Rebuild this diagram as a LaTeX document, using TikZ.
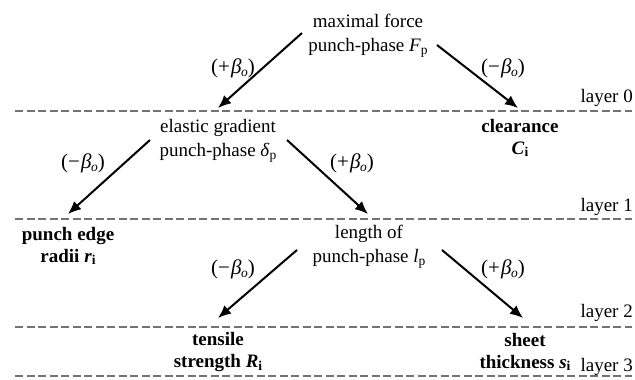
\documentclass[tikz,border=0pt]{standalone}
\usepackage{fontspec}
\setmainfont{Liberation Serif}
\usetikzlibrary{arrows.meta}
\newcommand{\subsc}[1]{\raisebox{-0.3ex}{\fontsize{13.5}{13.5}\selectfont #1}}
\newcommand{\betao}[1]{(#1\kern1pt\textit{β}\kern-0.5pt\subsc{\textit{o}})}
\tikzset{
  txt/.style={align=center, inner sep=1pt, font=\fontsize{19}{24}\selectfont},
  btxt/.style={txt, font=\fontsize{19}{22}\selectfont\bfseries},
  lbl/.style={inner sep=1pt, font=\fontsize{21}{24}\selectfont},
  layerlbl/.style={anchor=east, inner sep=1pt, font=\fontsize{19}{24}\selectfont},
  arr/.style={line width=2pt, -{Latex[length=13pt,width=11pt]}},
  layerline/.style={line width=1.4pt, draw=black!55, dash pattern=on 8pt off 3.5pt}
}
\begin{document}
\begin{tikzpicture}[x=1pt,y=-1pt]
\useasboundingbox (0,0) rectangle (635,380);
% layer lines
\coordinate (L0a) at (15,111); \coordinate (L0b) at (632,111);
\coordinate (L1a) at (15,219); \coordinate (L1b) at (632,219);
\coordinate (L2a) at (15,327); \coordinate (L2b) at (632,327);
\coordinate (L3a) at (15,376); \coordinate (L3b) at (632,376);
\draw[layerline] (L0a) -- (L0b);
\draw[layerline] (L1a) -- (L1b);
\draw[layerline] (L2a) -- (L2b);
\draw[layerline] (L3a) -- (L3b);
\node[layerlbl] (lay0) at (634,98) {layer 0};
\node[layerlbl] (lay1) at (634,207) {layer 1};
\node[layerlbl] (lay2) at (634,313) {layer 2};
\node[layerlbl] (lay3) at (634,367) {layer 3};
% nodes
\node[txt] (F) at (368,36) {maximal force\\punch-phase \textit{F}\subsc{p}};
\node[txt] (D) at (218,141) {elastic gradient\\punch-phase \textit{δ}\subsc{p}};
\node[btxt] (C) at (520,138) {clearance\\\textit{C}\subsc{\bfseries i}};
\node[btxt] (r) at (68,246) {punch edge\\radii \textit{r}\subsc{\bfseries i}};
\node[txt] (l) at (369,247) {length of\\punch-phase \textit{l}\subsc{p}};
\node[btxt] (R) at (218,352) {tensile\\strength \textit{R}\subsc{\bfseries i}};
\node[btxt] (s) at (525,352) {sheet\\thickness \textit{s}\subsc{\bfseries i}};
% arrow ends
\coordinate (a1s) at (302,33);  \coordinate (a1e) at (218,108);
\coordinate (a2s) at (437,45);  \coordinate (a2e) at (518,108);
\coordinate (a3s) at (150,140); \coordinate (a3e) at (68,214);
\coordinate (a4s) at (287,140); \coordinate (a4e) at (368,214);
\coordinate (a5s) at (297,250); \coordinate (a5e) at (218,318);
\coordinate (a6s) at (442,250); \coordinate (a6e) at (523,318);
\draw[arr] (a1s) -- (a1e);
\draw[arr] (a2s) -- (a2e);
\draw[arr] (a3s) -- (a3e);
\draw[arr] (a4s) -- (a4e);
\draw[arr] (a5s) -- (a5e);
\draw[arr] (a6s) -- (a6e);
% labels
\node[lbl] (b1) at (233,68) {\betao{+}};
\node[lbl] (b2) at (503,68) {\betao{−}};
\node[lbl] (b3) at (83,163) {\betao{−}};
\node[lbl] (b4) at (352,163) {\betao{+}};
\node[lbl] (b5) at (233,269) {\betao{−}};
\node[lbl] (b6) at (503,269) {\betao{+}};
\end{tikzpicture}
\end{document}
